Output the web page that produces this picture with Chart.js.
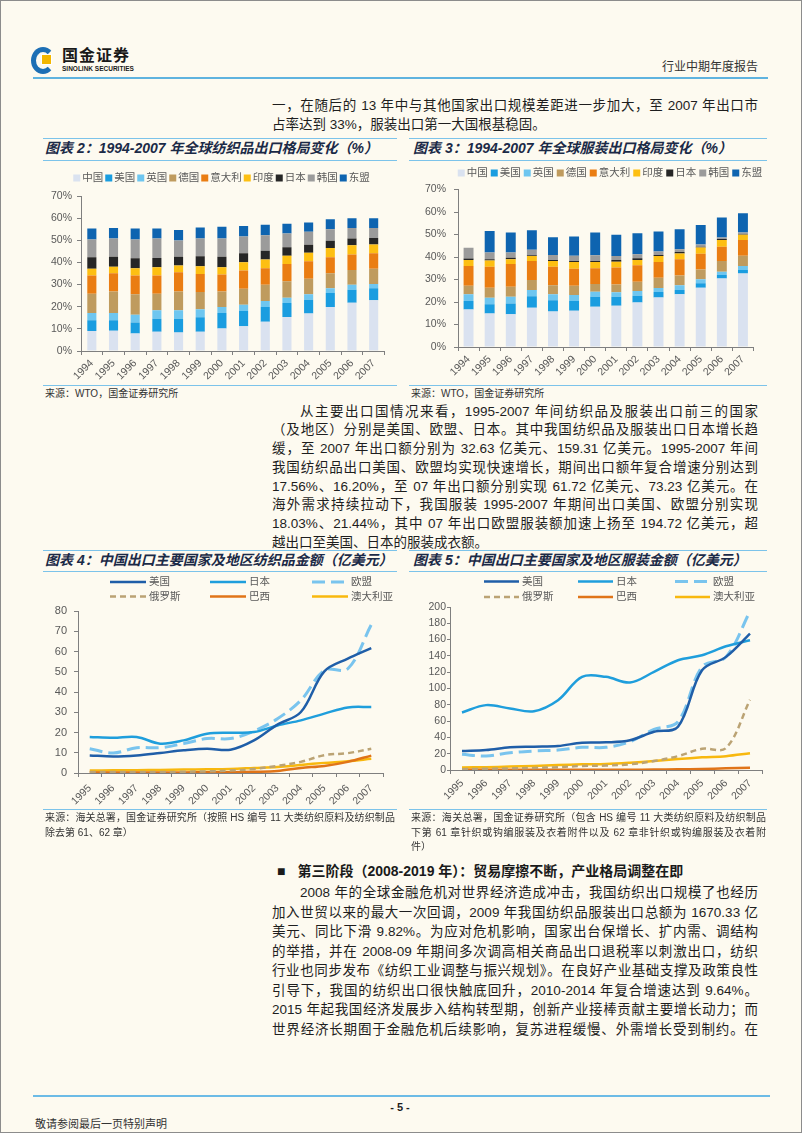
<!DOCTYPE html>
<html lang="zh-CN">
<head>
<meta charset="utf-8">
<title>行业中期年度报告</title>
<script src="https://cdn.jsdelivr.net/npm/chart.js"></script>
<style>
  html, body { margin: 0; padding: 0; }
  body {
    position: relative; width: 802px; height: 1133px; overflow: hidden;
    background: #fdfaf0; color: #1e1e1e;
    font-family: "Liberation Sans", "Noto Sans CJK SC", sans-serif;
  }
  .frame { position: absolute; left: 0; top: 0; width: 800px; height: 1131px; border: 1px solid #8c8c8c; }
  .rule { position: absolute; height: 0; border-top: 1px solid #7cc3ea; }
  .ttl { position: absolute; height: 18px; line-height: 18px; font-size: 14px; font-weight: bold; font-style: italic; color: #1b2a47; white-space: nowrap; }
  .src { position: absolute; font-size: 10px; line-height: 14.5px; color: #333; }
  .src div { text-align: justify; text-align-last: justify; }
  .src div.end { text-align-last: left; }
  .para { position: absolute; left: 272px; width: 486px; font-size: 13.5px; color: #1e1e1e; }
  .para div { text-align: justify; text-align-last: justify; }
  .para div.end { text-align-last: left; }
  .para div.ind { padding-left: 28px; }
  canvas { position: absolute; }
</style>
</head>
<body>
<div class="frame"></div>

<!-- header -->
<div style="position:absolute;left:31px;top:47px;width:14px;height:17px;border:5px solid #1d6fb5;border-right-color:transparent;border-radius:50%;"></div>
<div style="position:absolute;left:41px;top:54px;width:9px;height:9px;background:#f3b700;border:1px solid #fff;"></div>
<div style="position:absolute;left:62px;top:47px;font-size:16px;font-weight:bold;letter-spacing:1px;color:#1a1a1a;line-height:18px;">国金证券</div>
<div style="position:absolute;left:62px;top:65px;font-size:6.5px;font-weight:bold;color:#1a1a1a;line-height:8px;">SINOLINK SECURITIES</div>
<div style="position:absolute;left:662px;top:59px;font-size:12px;color:#333;line-height:16px;">行业中期年度报告</div>
<div class="rule" style="left:33px;top:77px;width:735px;border-top:2px solid #5fb3df;"></div>

<div class="para" style="top:95.5px;line-height:19px;">
  <div>一，在随后的 13 年中与其他国家出口规模差距进一步加大，至 2007 年出口市</div>
  <div class="end">占率达到 33%，服装出口第一大国根基稳固。</div>
</div>

<!-- chart 2 / 3 frames -->
<div class="rule" style="left:43px;top:138px;width:354px;"></div>
<div class="rule" style="left:43px;top:160px;width:354px;"></div>
<div class="ttl" style="left:45px;top:139px;">图表 2：1994-2007 年全球纺织品出口格局变化（%）</div>
<canvas id="c2" width="355" height="220" style="left:43px;top:165px;"></canvas>
<div class="rule" style="left:43px;top:385px;width:354px;"></div>
<div class="src" style="left:45px;top:387px;">来源：WTO，国金证券研究所</div>

<div class="rule" style="left:409px;top:138px;width:358px;"></div>
<div class="rule" style="left:409px;top:160px;width:358px;"></div>
<div class="ttl" style="left:413px;top:139px;">图表 3：1994-2007 年全球服装出口格局变化（%）</div>
<canvas id="c3" width="355" height="218" style="left:410px;top:165px;"></canvas>
<div class="rule" style="left:409px;top:385px;width:358px;"></div>
<div class="src" style="left:411px;top:387px;">来源：WTO，国金证券研究所</div>

<div class="para" style="top:402.5px;line-height:18.8px;">
  <div class="ind">从主要出口国情况来看，1995-2007 年间纺织品及服装出口前三的国家</div>
  <div>（及地区）分别是美国、欧盟、日本。其中我国纺织品及服装出口日本增长趋</div>
  <div>缓，至 2007 年出口额分别为 32.63 亿美元、159.31 亿美元。1995-2007 年间</div>
  <div>我国纺织品出口美国、欧盟均实现快速增长，期间出口额年复合增速分别达到</div>
  <div>17.56%、16.20%，至 07 年出口额分别实现 61.72 亿美元、73.23 亿美元。在</div>
  <div>海外需求持续拉动下，我国服装 1995-2007 年期间出口美国、欧盟分别实现</div>
  <div>18.03%、21.44%，其中 07 年出口欧盟服装额加速上扬至 194.72 亿美元，超</div>
  <div class="end">越出口至美国、日本的服装成衣额。</div>
</div>

<!-- chart 4 / 5 frames -->
<div class="rule" style="left:43px;top:550px;width:354px;"></div>
<div class="rule" style="left:43px;top:571px;width:354px;"></div>
<div class="ttl" style="left:45px;top:551px;">图表 4：中国出口主要国家及地区纺织品金额（亿美元）</div>
<canvas id="c4" width="352" height="238" style="left:43px;top:572px;"></canvas>
<div class="rule" style="left:43px;top:809px;width:354px;"></div>
<div class="src" style="left:45px;top:811px;width:350px;">
  <div>来源：海关总署，国金证券研究所（按照 HS 编号 11 大类纺织原料及纺织制品</div>
  <div class="end">除去第 61、62 章）</div>
</div>

<div class="rule" style="left:409px;top:550px;width:358px;"></div>
<div class="rule" style="left:409px;top:571px;width:358px;"></div>
<div class="ttl" style="left:413px;top:551px;">图表 5：中国出口主要国家及地区服装金额（亿美元）</div>
<canvas id="c5" width="362" height="238" style="left:408px;top:572px;"></canvas>
<div class="rule" style="left:409px;top:809px;width:358px;"></div>
<div class="src" style="left:411px;top:811px;width:355px;">
  <div>来源：海关总署，国金证券研究所（包含 HS 编号 11 大类纺织原料及纺织制品</div>
  <div>下第 61 章针织或钩编服装及衣着附件以及 62 章非针织或钩编服装及衣着附</div>
  <div class="end">件）</div>
</div>

<div style="position:absolute;left:277px;top:862px;font-size:14px;font-weight:bold;line-height:18px;white-space:nowrap;color:#1a1a1a;">■<span style="margin-left:12px;">第三阶段（2008-2019 年）：贸易摩擦不断，产业格局调整在即</span></div>

<div class="para" style="top:883.2px;line-height:19.5px;">
  <div class="ind">2008 年的全球金融危机对世界经济造成冲击，我国纺织出口规模了也经历</div>
  <div>加入世贸以来的最大一次回调，2009 年我国纺织品服装出口总额为 1670.33 亿</div>
  <div>美元、同比下滑 9.82%。为应对危机影响，国家出台保增长、扩内需、调结构</div>
  <div>的举措，并在 2008-09 年期间多次调高相关商品出口退税率以刺激出口，纺织</div>
  <div>行业也同步发布《纺织工业调整与振兴规划》。在良好产业基础支撑及政策良性</div>
  <div>引导下，我国的纺织出口很快触底回升，2010-2014 年复合增速达到 9.64%。</div>
  <div>2015 年起我国经济发展步入结构转型期，创新产业接棒贡献主要增长动力；而</div>
  <div>世界经济长期囿于金融危机后续影响，复苏进程缓慢、外需增长受到制约。在</div>
</div>

<!-- footer -->
<div class="rule" style="left:33px;top:1095px;width:737px;border-top:2px solid #6cbbe6;"></div>
<div style="position:absolute;left:380px;top:1099px;width:40px;text-align:center;font-size:11px;font-weight:bold;line-height:16px;">- 5 -</div>
<div style="position:absolute;left:35px;top:1116px;font-size:11px;line-height:16px;color:#333;">敬请参阅最后一页特别声明</div>

<script>
const FONT = '"Liberation Sans", "Noto Sans CJK SC", sans-serif';
const AXIS = '#595959';

// 图表 2 / 3：各国占全球出口份额（%），1994-2007
const barYears = ['1994', '1995', '1996', '1997', '1998', '1999', '2000', '2001', '2002', '2003', '2004', '2005', '2006', '2007'];
const barNames = ['中国', '美国', '英国', '德国', '意大利', '印度', '日本', '韩国', '东盟'];
const barColors = ['#dae2f0', '#1a9de0', '#6ec6f0', '#bf9b5e', '#ea7d12', '#fdbf12', '#262626', '#9b9b9b', '#0e64b0'];

const textileCN = [9.0, 9.1, 7.9, 8.7, 8.4, 8.7, 10.2, 11.2, 13.2, 15.4, 16.9, 19.9, 21.8, 22.9];
const textileUS = [4.9, 4.8, 5.0, 5.9, 6.2, 6.5, 7.0, 6.9, 6.7, 6.3, 6.3, 6.3, 5.9, 5.4];
const textileUK = [3.3, 3.3, 3.5, 3.8, 3.8, 3.6, 2.7, 2.8, 2.7, 2.4, 2.4, 2.1, 2.2, 2.0];
const textileDE = [8.7, 9.7, 9.2, 7.5, 8.5, 7.8, 7.0, 7.2, 7.3, 7.4, 7.0, 6.8, 6.7, 6.8];
const textileIT = [8.2, 8.2, 8.5, 8.2, 8.7, 8.2, 7.6, 8.2, 7.5, 7.8, 7.9, 7.2, 7.0, 7.0];
const textileIN = [3.0, 3.0, 3.3, 3.7, 3.0, 3.5, 3.3, 3.8, 3.9, 3.7, 3.9, 4.2, 4.2, 4.0];
const textileJP = [5.2, 4.5, 4.5, 4.2, 4.0, 4.5, 4.8, 4.0, 4.0, 3.8, 3.6, 3.3, 3.0, 2.9];
const textileKR = [8.1, 8.2, 8.5, 8.8, 7.3, 8.0, 8.2, 7.6, 7.0, 6.3, 5.8, 5.2, 4.7, 4.5];
const textileAS = [4.9, 4.8, 4.9, 4.5, 4.7, 5.0, 5.3, 4.8, 4.7, 4.4, 4.2, 4.5, 4.4, 4.4];

const apparelCN = [16.7, 14.9, 14.6, 17.4, 15.8, 16.1, 17.9, 18.3, 19.8, 22.0, 23.4, 26.3, 30.4, 32.7];
const apparelUS = [3.8, 4.1, 4.7, 5.2, 5.0, 4.4, 4.4, 4.0, 3.0, 2.4, 1.9, 2.0, 1.6, 1.5];
const apparelUK = [2.9, 2.9, 3.0, 2.7, 2.6, 2.6, 2.3, 2.0, 2.1, 1.8, 2.1, 1.8, 1.5, 1.8];
const apparelDE = [3.8, 4.4, 4.5, 4.5, 4.1, 4.1, 3.4, 3.5, 4.1, 4.6, 4.4, 4.4, 4.7, 4.6];
const apparelIT = [8.8, 9.4, 10.1, 8.4, 8.2, 7.6, 7.0, 7.5, 7.3, 7.0, 7.2, 6.9, 6.4, 7.0];
const apparelIN = [2.7, 2.7, 2.1, 2.3, 2.5, 3.0, 2.8, 2.6, 2.4, 2.7, 2.6, 2.8, 3.0, 2.3];
const apparelJP = [0.6, 0.6, 0.7, 0.3, 0.5, 0.4, 0.4, 0.8, 0.7, 0.4, 0.6, 0.4, 0.4, 0.2];
const apparelKR = [4.8, 3.0, 2.3, 2.4, 2.2, 2.4, 2.6, 1.8, 1.8, 1.5, 1.2, 1.0, 0.7, 0.8];
const apparelAS = [0, 9.6, 8.9, 8.7, 7.9, 8.5, 10.1, 9.4, 9.4, 8.9, 8.9, 8.6, 8.9, 8.6];

// 图表 4 / 5：中国对主要市场出口额（亿美元），1995-2007
const lineYears = ['1995', '1996', '1997', '1998', '1999', '2000', '2001', '2002', '2003', '2004', '2005', '2006', '2007'];
const lineNames = ['美国', '日本', '欧盟', '俄罗斯', '巴西', '澳大利亚'];
const lineColors = ['#1f5ea8', '#1f9edc', '#79c4ee', '#bba374', '#e07418', '#f8b80e'];
const lineDash = [[], [], [13, 6], [6, 4], [], []];
const lineWidths = [2.5, 2.5, 3, 2.5, 2.5, 2.5];

const textileToUS = [8.7, 8.2, 8.7, 9.9, 11.2, 12.0, 11.5, 16.1, 23.9, 30.1, 50.2, 56.5, 61.7];
const textileToJP = [17.8, 17.4, 17.8, 14.5, 16.1, 19.4, 19.9, 20.2, 23.5, 26.0, 29.3, 32.4, 32.6];
const textileToEU = [12.0, 9.9, 12.5, 12.5, 14.5, 17.0, 17.0, 20.7, 26.8, 35.9, 50.7, 51.5, 73.2];
const textileToRU = [0.5, 0.5, 0.5, 0.5, 0.6, 0.8, 1.2, 2.0, 3.5, 5.5, 8.8, 9.8, 12.0];
const textileToBR = [0.3, 0.3, 0.3, 0.3, 0.3, 0.4, 0.4, 0.6, 1.0, 2.5, 3.5, 5.5, 8.6];
const textileToAU = [1.2, 1.3, 1.4, 1.5, 1.7, 1.8, 2.0, 2.5, 3.0, 4.0, 5.0, 5.8, 7.0];

const apparelToUS = [23.3, 24.5, 27.8, 28.6, 29.4, 33.5, 33.9, 36.5, 46.9, 53.1, 122.4, 138.8, 167.3];
const apparelToJP = [70.6, 79.6, 75.5, 72.2, 85.7, 114.3, 114.3, 107.3, 120.4, 134.7, 140.8, 151.8, 159.3];
const apparelToEU = [19.2, 17.1, 21.2, 23.3, 24.5, 27.8, 27.8, 34.7, 49.8, 59.2, 126.5, 138.8, 194.7];
const apparelToRU = [1, 1.5, 2, 2.5, 3.5, 5, 5.5, 7, 11, 17, 26, 27, 86];
const apparelToBR = [0.3, 0.3, 0.3, 0.3, 0.3, 0.3, 0.3, 0.4, 0.5, 0.8, 1.2, 2.0, 2.8];
const apparelToAU = [3, 3.5, 4.2, 5, 6, 7, 7.5, 9, 11, 13.5, 15.5, 17, 20.5];

// legend drawn on the canvas: one row of boxes, or a 3-column grid of line samples
const pageLegend = {
  id: 'pageLegend',
  afterDraw(chart, args, o) {
    const ctx = chart.ctx;
    const sets = chart.data.datasets;
    ctx.save();
    ctx.font = o.size + 'px ' + FONT;
    ctx.textBaseline = 'middle';
    if (o.mode === 'row') {
      const widths = sets.map(d => o.box + o.gap + ctx.measureText(d.label).width);
      const total = widths.reduce((a, b) => a + b, 0) + o.space * (sets.length - 1);
      let x = o.cx - total / 2;
      sets.forEach((d, i) => {
        ctx.fillStyle = d.backgroundColor;
        ctx.fillRect(x, o.y - o.box / 2, o.box, o.box);
        ctx.fillStyle = o.color;
        ctx.fillText(d.label, x + o.box + o.gap, o.y + 0.5);
        x += widths[i] + o.space;
      });
    } else {
      sets.forEach((d, i) => {
        const x = o.xs[i % 3];
        const y = o.ys[Math.floor(i / 3)];
        ctx.strokeStyle = d.borderColor;
        ctx.lineWidth = d.borderWidth;
        ctx.setLineDash(d.borderDash || []);
        ctx.beginPath();
        ctx.moveTo(x, y);
        ctx.lineTo(x + o.len, y);
        ctx.stroke();
        ctx.setLineDash([]);
        ctx.fillStyle = o.color;
        ctx.fillText(d.label, x + o.len + 3, y + 0.5);
      });
    }
    ctx.restore();
  }
};

function axisX(g) {
  return {
    offset: true,
    grid: { offset: true, drawOnChartArea: false, tickLength: 4, color: '#7f7f7f' },
    border: { color: '#7f7f7f' },
    ticks: { color: AXIS, font: { family: FONT, size: 10.5 }, minRotation: 45, maxRotation: 45, autoSkip: false, padding: g.xpad },
    afterFit: s => { s.height = g.xh; }
  };
}

function axisY(g) {
  return {
    min: 0, max: g.max,
    grid: { drawOnChartArea: false, tickLength: g.tl, color: '#7f7f7f' },
    border: { color: '#7f7f7f' },
    ticks: { stepSize: g.step, color: AXIS, padding: g.ypad, font: { family: FONT, size: g.ysize }, callback: v => v + g.unit },
    afterFit: s => { s.width = g.yw; }
  };
}

function shareChart(id, series, g) {
  const x = axisX(g), y = axisY(g);
  x.stacked = true; y.stacked = true;
  return new Chart(document.getElementById(id), {
    type: 'bar',
    data: {
      labels: barYears,
      datasets: barNames.map((name, i) => ({
        label: name, data: series[i], backgroundColor: barColors[i],
        borderWidth: 0, barPercentage: g.bar, categoryPercentage: 1
      }))
    },
    options: {
      responsive: false, animation: false, devicePixelRatio: 1,
      layout: { padding: { top: g.top, right: g.right, left: 0, bottom: 0 } },
      plugins: {
        legend: { display: false }, tooltip: { enabled: false },
        pageLegend: { mode: 'row', cx: g.lx, y: g.ly, box: 7, gap: 2, space: g.space, size: 10.5, color: AXIS }
      },
      scales: { x: x, y: y }
    },
    plugins: [pageLegend]
  });
}

function valueChart(id, series, g) {
  return new Chart(document.getElementById(id), {
    type: 'line',
    data: {
      labels: lineYears,
      datasets: lineNames.map((name, i) => ({
        label: name, data: series[i], borderColor: lineColors[i], borderWidth: lineWidths[i],
        borderDash: lineDash[i], pointRadius: 0, tension: 0.35, fill: false
      }))
    },
    options: {
      responsive: false, animation: false, devicePixelRatio: 1,
      layout: { padding: { top: g.top, right: g.right, left: 0, bottom: 0 } },
      plugins: {
        legend: { display: false }, tooltip: { enabled: false },
        pageLegend: { mode: 'grid', xs: g.lxs, ys: g.lys, len: g.len, size: 10.5, color: AXIS }
      },
      scales: { x: axisX(g), y: axisY(g) }
    },
    plugins: [pageLegend]
  });
}

shareChart('c2',
  [textileCN, textileUS, textileUK, textileDE, textileIT, textileIN, textileJP, textileKR, textileAS],
  { bar: 0.42, top: 31, right: 13.5, xh: 34, yw: 38, xpad: 2, max: 70, step: 10, unit: '%', tl: 4, ypad: 5, ysize: 10.5, lx: 178.5, ly: 13, space: 2 });

shareChart('c3',
  [apparelCN, apparelUS, apparelUK, apparelDE, apparelIT, apparelIN, apparelJP, apparelKR, apparelAS],
  { bar: 0.47, top: 24.5, right: 11.5, xh: 36, yw: 48, xpad: 2, max: 70, step: 10, unit: '%', tl: 4, ypad: 8, ysize: 10.5, lx: 200, ly: 8, space: 3 });

valueChart('c4',
  [textileToUS, textileToJP, textileToEU, textileToRU, textileToBR, textileToAU],
  { top: 39, right: 12, xh: 37, yw: 35, xpad: 5, max: 80, step: 10, unit: '', tl: 4, ypad: 7, ysize: 11, lxs: [67, 167, 269], lys: [10, 24.5], len: 36 });

valueChart('c5',
  [apparelToUS, apparelToJP, apparelToEU, apparelToRU, apparelToBR, apparelToAU],
  { top: 35, right: 8, xh: 40, yw: 42, xpad: 3, max: 200, step: 20, unit: '', tl: 3, ypad: 1, ysize: 10.5, lxs: [76, 170, 267], lys: [9.5, 25], len: 35 });
</script>
</body>
</html>
